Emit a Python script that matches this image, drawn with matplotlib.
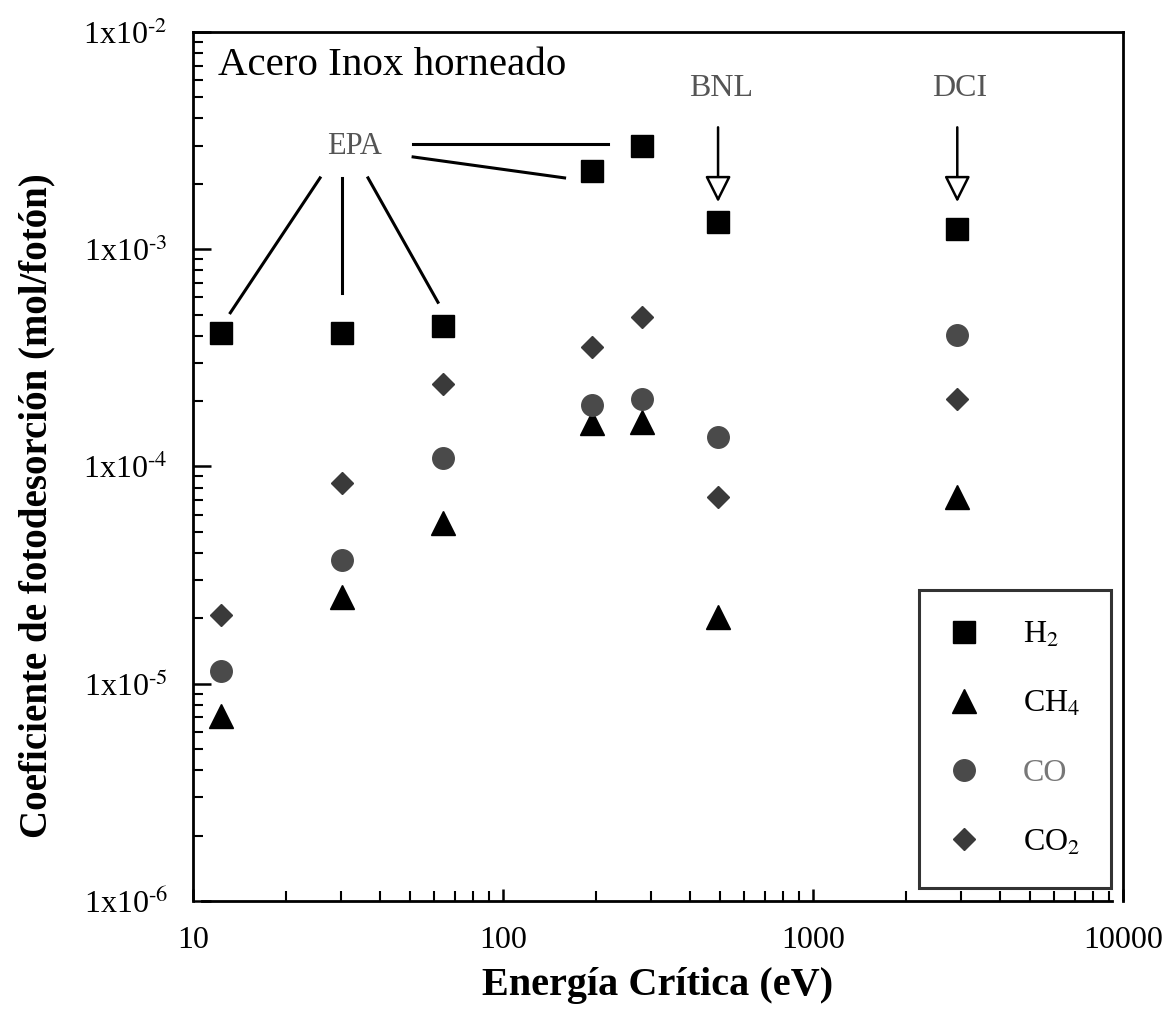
import matplotlib
matplotlib.use('Agg')
import matplotlib.pyplot as plt
from matplotlib.ticker import FixedLocator, LogLocator, NullFormatter

plt.rcParams['font.family'] = ['Liberation Serif', 'DejaVu Serif']
plt.rcParams['mathtext.fontset'] = 'stix'

# critical energies (eV) and desorption coefficients (mol/photon)
energia = [12.3, 30.2, 64, 194, 280, 494, 2920]
h2 = [4.1e-4, 4.1e-4, 4.45e-4, 2.3e-3, 3.0e-3, 1.33e-3, 1.24e-3]
ch4 = [7.1e-6, 2.5e-5, 5.5e-5, 1.59e-4, 1.6e-4, 2.03e-5, 7.2e-5]
co = [1.15e-5, 3.7e-5, 1.09e-4, 1.92e-4, 2.05e-4, 1.37e-4, 4.05e-4]
co2 = [2.07e-5, 8.4e-5, 2.4e-4, 3.55e-4, 4.9e-4, 7.2e-5, 2.05e-4]

yticks = [1e-6, 1e-5, 1e-4, 1e-3, 1e-2]
ylabels = [r'1x10$^{\text{-}6}$', r'1x10$^{\text{-}5}$', r'1x10$^{\text{-}4}$',
           r'1x10$^{\text{-}3}$', r'1x10$^{\text{-}2}$']
xticks = [10, 100, 1000, 10000]
xlabels = ['10', '100', '1000', '10000']

# EPA annotation lines (energy pairs, coefficient pairs)
epa_lines = [
    ([51.3, 218], [3.05e-3, 3.05e-3]),
    ([51.3, 158], [2.66e-3, 2.13e-3]),
    ([25.7, 13.2], [2.13e-3, 5.1e-4]),
    ([30.2, 30.2], [2.13e-3, 6.3e-4]),
    ([36.7, 61.7], [2.13e-3, 5.7e-4]),
]
arrow_x = [494, 2920]
arrow_names = ['BNL', 'DCI']

fig = plt.figure(figsize=(11.68, 10.22), dpi=100)
ax = fig.add_axes([0.1652, 0.1184, 0.7963, 0.8503])

ax.plot(energia, h2, 's', color='black', ms=15.5, label=r'H$_2$', zorder=3)
ax.plot(energia, ch4, '^', color='black', ms=17, label=r'CH$_4$', zorder=3)
ax.plot(energia, co, 'o', color='#4a4a4a', ms=15.5, label='CO', zorder=3)
ax.plot(energia, co2, 'D', color='#3a3a3a', ms=11, label=r'CO$_2$', zorder=3)

ax.set_xscale('log')
ax.set_yscale('log')
ax.set_xlim(10, 10000)
ax.set_ylim(1e-6, 1e-2)

ax.xaxis.set_major_locator(FixedLocator(xticks))
ax.set_xticklabels(xlabels)
ax.xaxis.set_minor_locator(LogLocator(base=10, subs=range(2, 10)))
ax.xaxis.set_minor_formatter(NullFormatter())
ax.yaxis.set_major_locator(FixedLocator(yticks))
ax.set_yticklabels(ylabels)
ax.yaxis.set_minor_locator(LogLocator(base=10, subs=range(2, 10)))
ax.yaxis.set_minor_formatter(NullFormatter())

ax.tick_params(axis='both', which='major', direction='in', width=1.8, labelsize=23,
               top=False, right=False)
ax.tick_params(axis='y', which='major', length=13, pad=18)
ax.tick_params(axis='x', which='major', length=9, pad=18)
ax.tick_params(axis='both', which='minor', direction='in', width=1.5, length=7,
               top=False, right=False)

for side in ['left', 'bottom', 'top', 'right']:
    ax.spines[side].set_linewidth(2)
ax.spines['bottom'].set_bounds(10.7, 9200)

ax.set_xlabel('Energía Crítica (eV)', fontsize=29, fontweight='bold', labelpad=9)
ax.set_ylabel('Coeficiente de fotodesorción (mol/fotón)', fontsize=28,
              fontweight='bold')
ax.yaxis.set_label_coords(-0.148, 0.4545)

ax.text(0.027, 0.961, 'Acero Inox horneado', transform=ax.transAxes,
        fontsize=29.5, ha='left', va='center')

ax.text(33.3, 2.96e-3, 'EPA', fontsize=22, color='#555555', ha='center', va='center')
for xs, ys in epa_lines:
    ax.plot(xs, ys, color='black', lw=2.2)

for xa, name in zip(arrow_x, arrow_names):
    ax.annotate('', xy=(xa, 1.6e-3), xytext=(xa, 3.75e-3),
                arrowprops=dict(arrowstyle='-|>,head_length=1.6,head_width=0.8',
                                mutation_scale=10, fc='white', ec='black', lw=1.8))
    ax.text(xa * 1.02, 5.5e-3, name, fontsize=23, color='#555555',
            ha='center', va='center')

leg = ax.legend(loc='lower right', bbox_to_anchor=(1111 / 1168, 1 - 888 / 1022),
                bbox_transform=fig.transFigure, fontsize=23, numpoints=1,
                frameon=True, fancybox=False, edgecolor='black',
                borderpad=0.95, labelspacing=1.25, handlelength=0.9,
                handletextpad=1.4, borderaxespad=0)
leg.get_frame().set_linewidth(2.2)
leg.get_texts()[2].set_color('#777777')

fig.savefig('out.png', dpi=100, facecolor='white')
